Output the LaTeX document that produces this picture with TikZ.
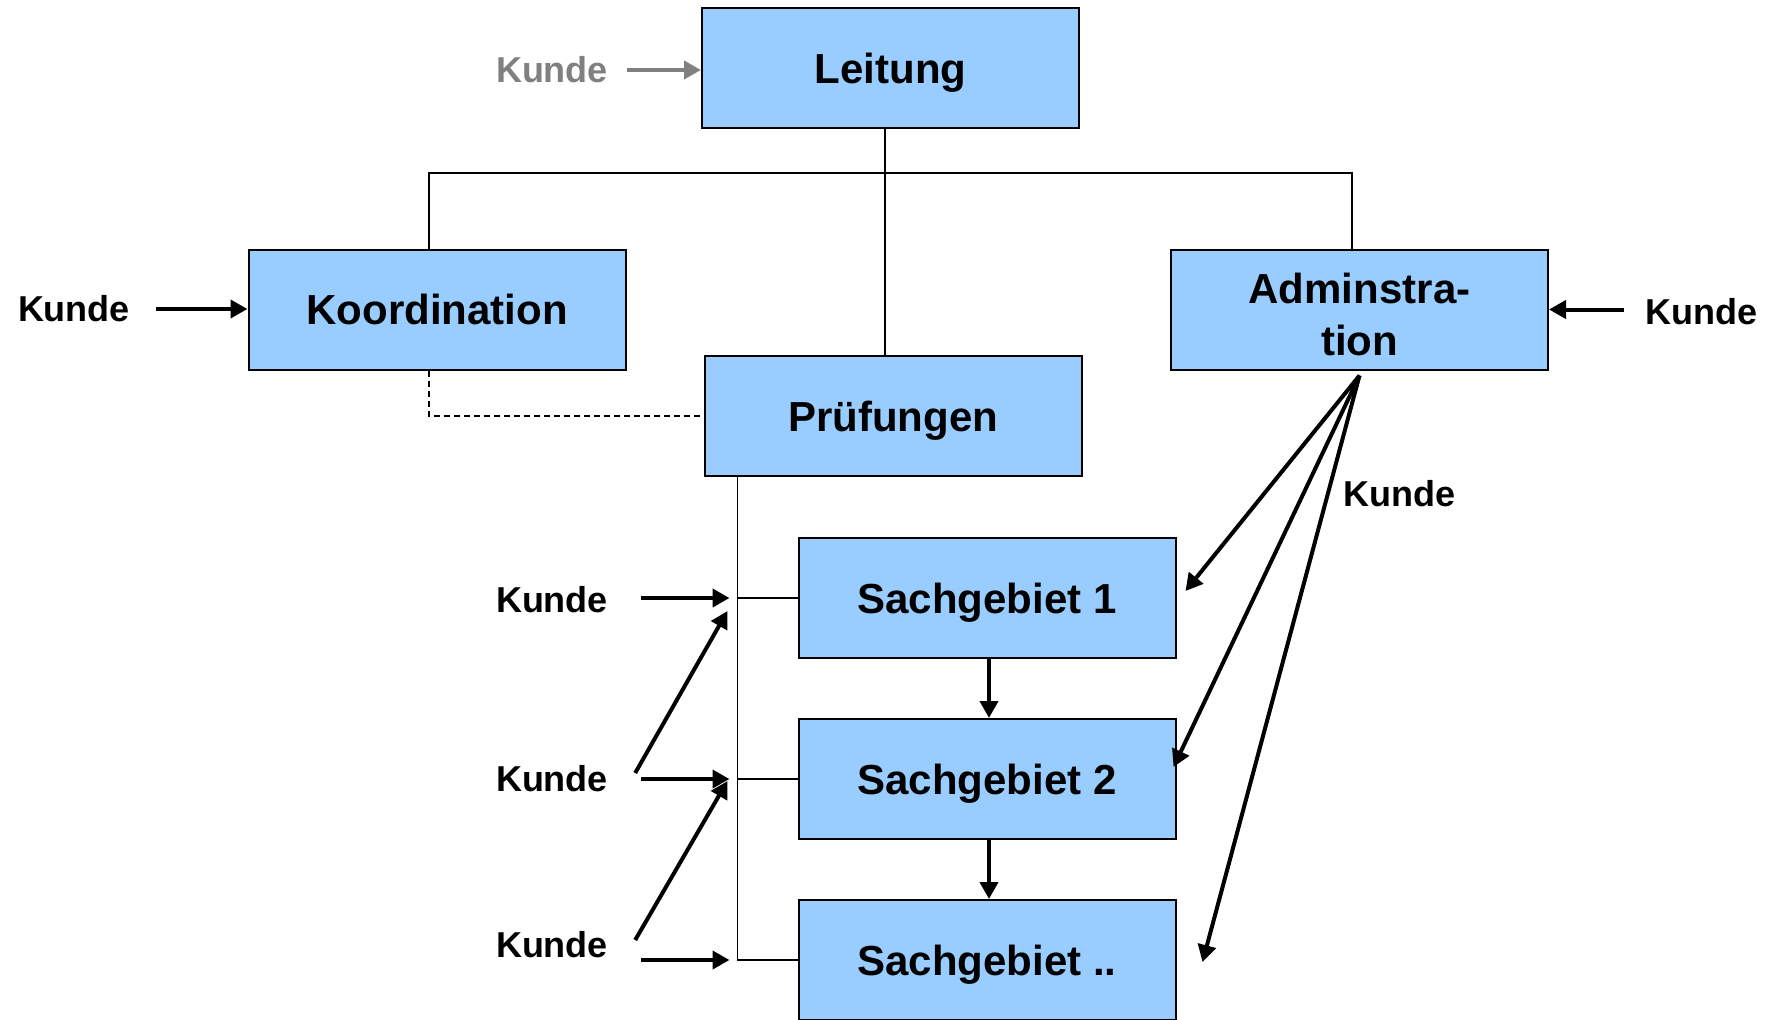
\documentclass[tikz,border=0pt]{standalone}
\usepackage{fontspec}
\setmainfont{Liberation Sans}
\usetikzlibrary{arrows.meta}
\definecolor{boxblue}{HTML}{99CCFF}
\definecolor{kgrey}{HTML}{808080}

\begin{document}
\begin{tikzpicture}[x=1pt,y=-1pt,
  unit box/.style={draw=black, line width=2pt, fill=boxblue,
    minimum width=377pt, minimum height=120pt, inner sep=0pt,
    font=\fontsize{42}{52}\selectfont\bfseries, align=center},
  one line/.style={text height=30pt, text depth=0pt},
  client/.style={font=\fontsize{36}{40}\selectfont\bfseries, inner sep=0pt},
  link/.style={line width=1.5pt},
  flow/.style={line width=4pt, -{Triangle[length=17pt,width=18pt]}},
]
\useasboundingbox (0,0) rectangle (1775,1020);
\clip (0,0) rectangle (1775,1019);

% organisational units
\node[unit box, one line] (lead)  at (890.5,68)    {Leitung};
\node[unit box, one line] (coord) at (437,309.5)   {Koordination};
\node[unit box, text height=92pt, text depth=0pt] (admin) at (1359.5,309.5) {Adminstra-\\tion};
\node[unit box, one line] (exam)  at (893,416)     {Prüfungen};
\node[unit box, one line] (s1)    at (987,598)     {Sachgebiet 1};
\node[unit box, one line] (s2)    at (987,779)     {Sachgebiet 2};
\node[unit box, one line] (s3)    at (987,960)     {Sachgebiet ..};

% hierarchy lines
\coordinate (bus) at (885,173);
\draw[link] ([xshift=-8pt]coord.north) -- ([xshift=-8pt]coord.north |- bus)
  -- ([xshift=-7.5pt]admin.north |- bus) -- ([xshift=-7.5pt]admin.north);
\draw[link] ([xshift=-5.5pt]lead.south) -- ([xshift=-8pt]exam.north);
\draw[link, dash pattern=on 6pt off 4pt] ([xshift=-8pt]coord.south) |- (exam.west);

\coordinate (sp) at ([xshift=34pt]exam.south west);
\draw[link] (sp) |- (s3.west);
\draw[link] (s1.west) -- (s1.west -| sp);
\draw[link] (s2.west) -- (s2.west -| sp);

\draw[flow] ([xshift=2pt]s1.south) -- ([xshift=2pt]s2.north);
\draw[flow] ([xshift=2pt]s2.south) -- ([xshift=2pt]s3.north);

% customers
\node[client, text=kgrey] (kg) at (552,70) {Kunde};
\draw[flow, kgrey] ([xshift=19pt]kg.east) -- (kg.east -| lead.west);

\node[client] (kl) at (74,309) {Kunde};
\draw[flow] ([xshift=26pt]kl.east) -- (kl.east -| coord.west);

\node[client] (kr) at (1701,312) {Kunde};
\draw[flow] ([xshift=-21pt]kr.west |- admin.east) -- (admin.east);

\node[client] (k1) at (552,600) {Kunde};
\node[client] (k2) at (552,779) {Kunde};
\node[client] (k3) at (552,945) {Kunde};
\coordinate (in1) at ([xshift=-8pt]sp |- s1.west);
\coordinate (in2) at ([xshift=-8pt]sp |- s2.west);
\coordinate (in3) at ([xshift=-8pt]sp |- s3.west);
\draw[flow] ([xshift=33pt]k1.east |- s1.west) -- (in1);
\draw[flow] ([xshift=33pt]k2.east |- s2.west) -- (in2);
\draw[flow] ([xshift=33pt]k3.east |- s3.west) -- (in3);
\coordinate (up1) at ([xshift=-10pt,yshift=-13pt]sp |- s1.west);
\coordinate (up2) at ([xshift=-10pt,yshift=-2pt]sp |- s2.west);
\draw[flow] ([xshift=27pt,yshift=6pt]k2.east) -- (up1);
\draw[flow] ([xshift=27pt,yshift=5pt]k3.east) -- (up2);

% administration reaching every section
\coordinate (fan) at ([yshift=-5pt]admin.south);
\coordinate (to1) at ([xshift=9pt,yshift=7pt]s1.east);
\coordinate (to2) at ([xshift=-3pt,yshift=12pt]s2.east);
\coordinate (to3) at ([xshift=26pt,yshift=-2pt]s3.east);
\draw[flow] (fan) -- (to1);
\draw[flow] (fan) -- (to2);
\draw[flow] (fan) -- (to3);
\node[client] (kf) at (1399,494) {Kunde};
\end{tikzpicture}
\end{document}
